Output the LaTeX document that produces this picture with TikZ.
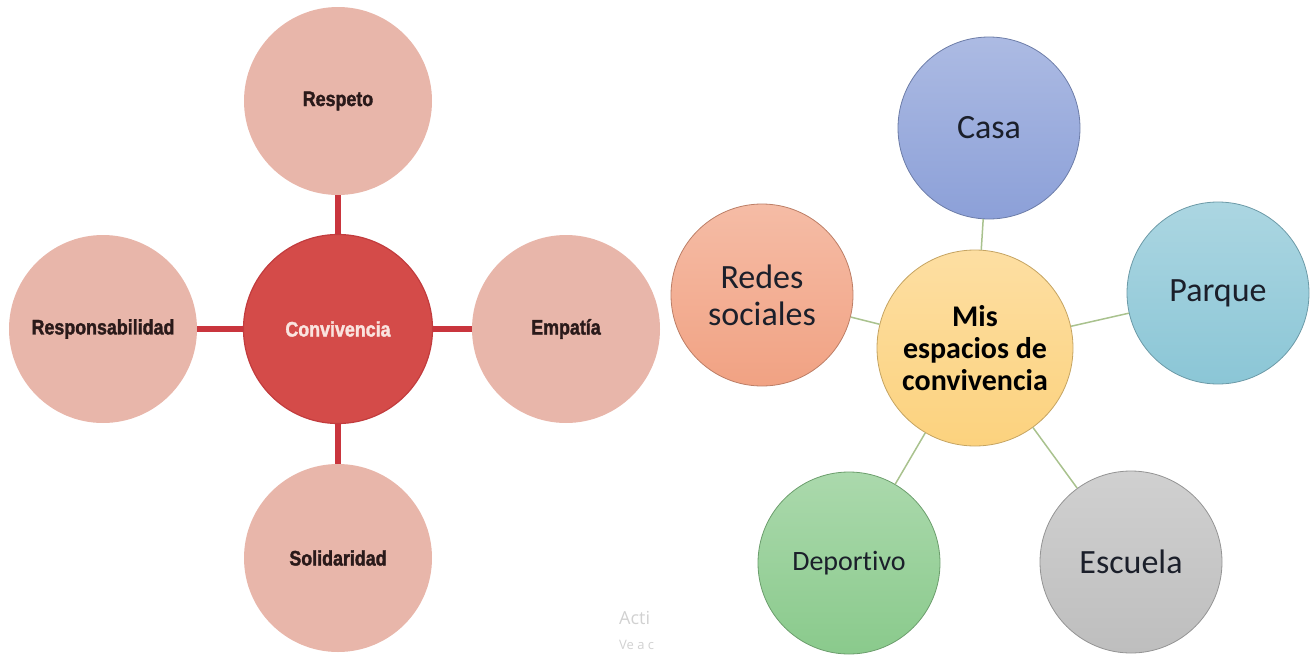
\documentclass[tikz,border=0pt]{standalone}
\usepackage{fontspec}
\setmainfont[Ligatures=NoCommon]{Carlito}
\newfontfamily\condfont[FakeStretch=0.85,FakeBold=1.6]{Liberation Sans}
\newfontfamily\markfont{Open Sans}

\definecolor{petalpink}{HTML}{E8B6AA}
\definecolor{corered}{HTML}{D44B49}
\definecolor{coreedge}{HTML}{C23C3E}
\definecolor{spokered}{HTML}{C9353D}
\definecolor{labeldark}{HTML}{2A1A1A}
\definecolor{corelabel}{HTML}{FAE4DF}
\definecolor{twig}{HTML}{A9C28E}
\definecolor{inkdark}{HTML}{1B1F2A}
\definecolor{hubgold}{HTML}{FCD27E}
\definecolor{casablue}{HTML}{8CA0D8}
\definecolor{parqueteal}{HTML}{8BC6D6}
\definecolor{redessalmon}{HTML}{F1A283}
\definecolor{deporgreen}{HTML}{8ACA8C}
\definecolor{escugray}{HTML}{BEBEBE}

\begin{document}
\begin{tikzpicture}[x=1pt, y=-1pt,
  petal/.style={circle, minimum size=188pt, inner sep=0pt, fill=petalpink,
    text=labeldark, font=\condfont\bfseries\fontsize{21}{25}\selectfont},
  core/.style={circle, minimum size=189pt, inner sep=0pt, fill=corered,
    draw=coreedge, line width=1.2pt, text=corelabel,
    font=\condfont\bfseries\fontsize{21}{25}\selectfont},
  spoke/.style={draw=spokered, line width=6pt},
  bubble/.style={circle, minimum size=182pt, inner sep=0pt, align=center,
    text=inkdark, line width=0.8pt, font=\fontsize{34}{37}\selectfont},
  tint/.style={top color=#1!72!white, bottom color=#1, draw=#1!78!black},
  hub/.style={bubble, minimum size=196pt, tint=hubgold, text=black,
    font=\bfseries\fontsize{30}{32}\selectfont},
  twigline/.style={draw=twig, line width=1.5pt}]

  \useasboundingbox (0,0) rectangle (1310,656);

  % left map
  \node[core]  (conv)   at (338,329) {Convivencia};
  \node[petal] (resp)   at (338,101) {Respeto};
  \node[petal] (empa)   at (566,329) {Empatía};
  \node[petal] (solid)  at (338,558) {Solidaridad};
  \node[petal] (respon) at (103,329) {Responsabilidad};

  \draw[spoke] (conv) -- (resp);
  \draw[spoke] (conv) -- (empa);
  \draw[spoke] (conv) -- (solid);
  \draw[spoke] (conv) -- (respon);

  % faint watermark
  \node[anchor=west, inner sep=0pt, text=black!18,
    font=\markfont\fontsize{18}{20}\selectfont] (wmA) at (619,618) {Acti};
  \node[anchor=west, inner sep=0pt, text=black!18,
    font=\markfont\fontsize{13}{15}\selectfont] (wmB) at (619,645) {Ve a c};

  % right map
  \node[hub] (mis) at (975,348) {Mis\\espacios de\\convivencia};
  \node[bubble, tint=casablue]    (casa)   at (989,128) {Casa};
  \node[bubble, tint=parqueteal]  (parque) at (1218,293) {Parque};
  \node[bubble, tint=redessalmon] (redes)  at (762,295) {Redes\\sociales};
  \node[bubble, tint=deporgreen, font=\fontsize{28}{31}\selectfont]
    (depor) at (849,563) {Deportivo};
  \node[bubble, tint=escugray]    (escu)   at (1131,562) {Escuela};

  \draw[twigline] (mis) -- (casa);
  \draw[twigline] (mis) -- (parque);
  \draw[twigline] (mis) -- (redes);
  \draw[twigline] (mis) -- (depor);
  \draw[twigline] (mis) -- (escu);
\end{tikzpicture}
\end{document}
